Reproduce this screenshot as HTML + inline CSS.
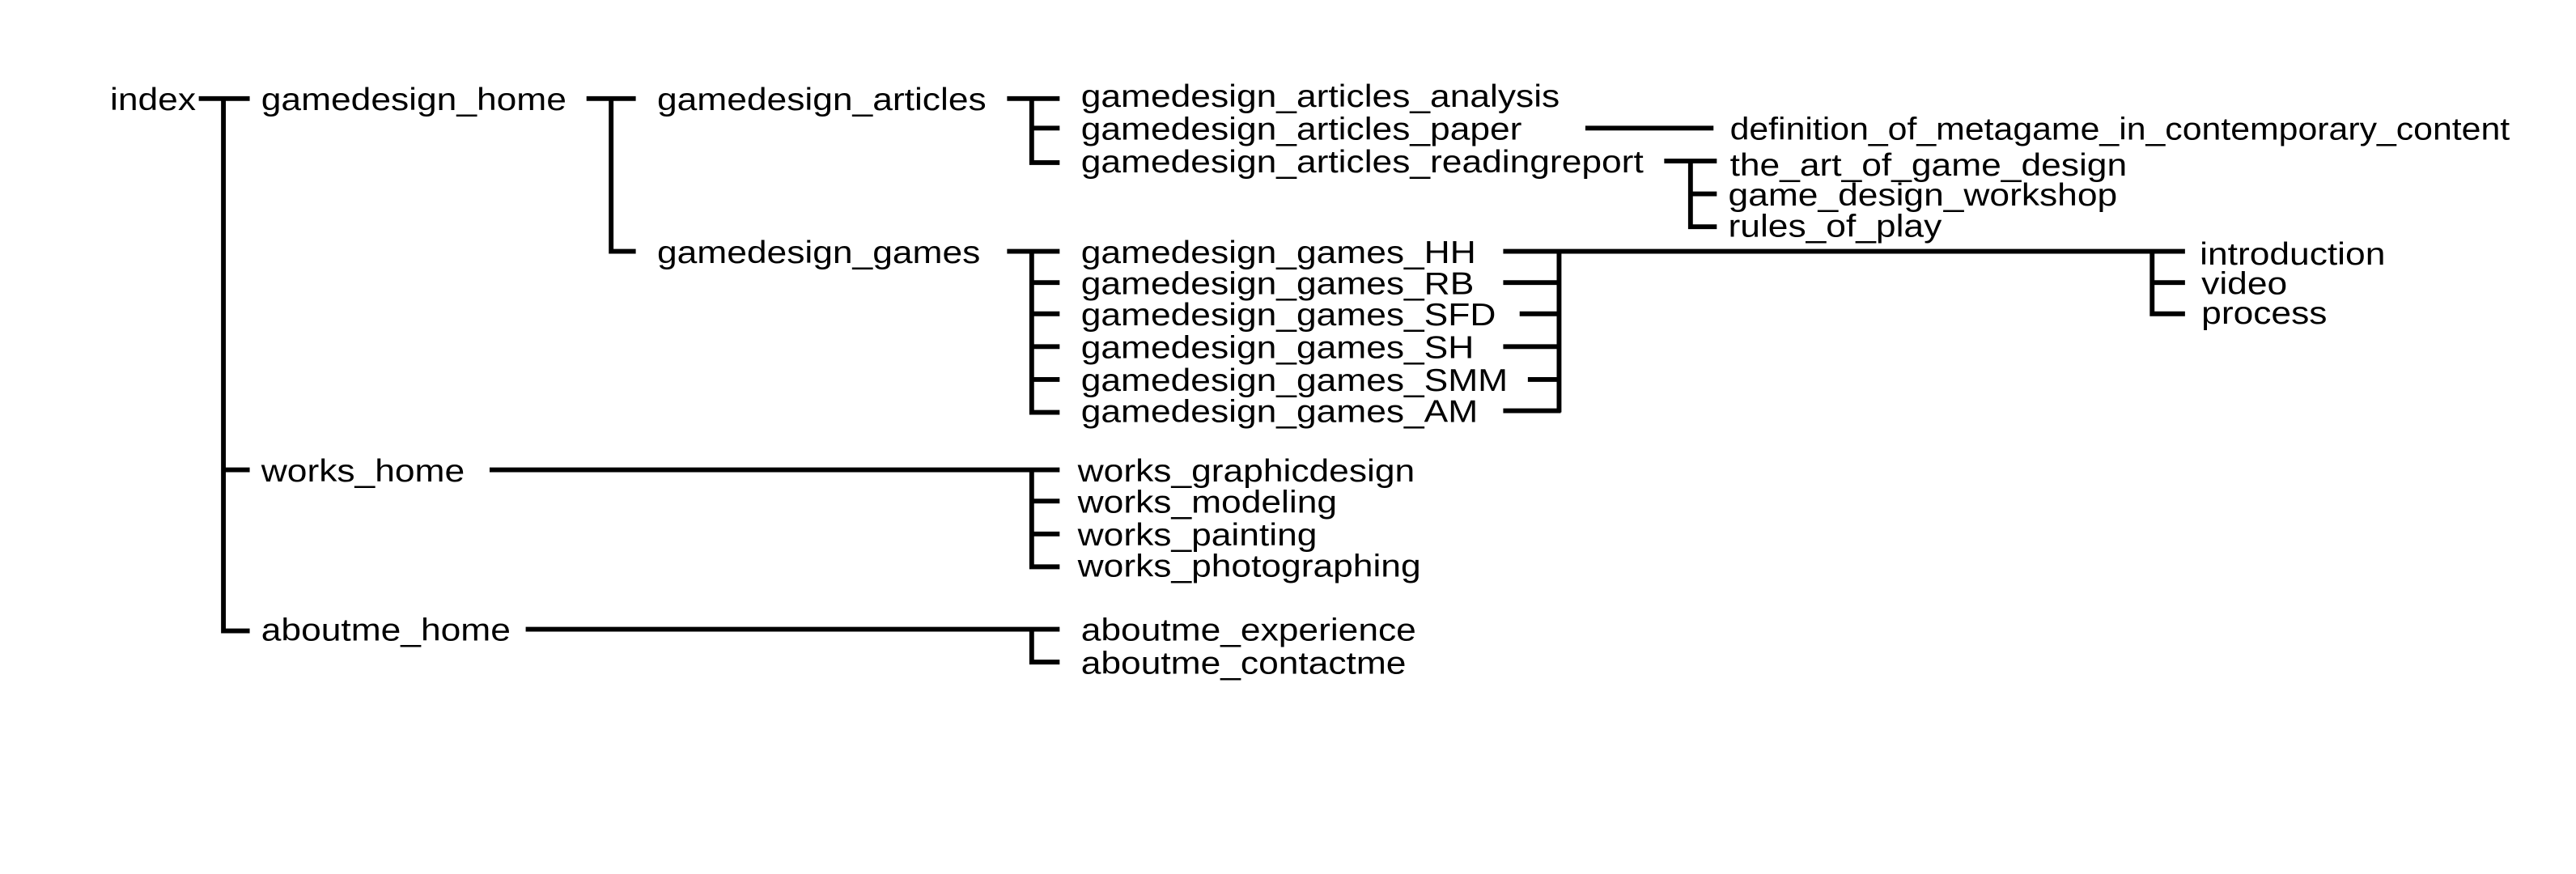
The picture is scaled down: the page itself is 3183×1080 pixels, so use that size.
<!DOCTYPE html>
<html><head><meta charset="utf-8"><style>
html,body{margin:0;padding:0;background:#fff;width:3183px;height:1080px;overflow:hidden}
svg{display:block}
text{font-family:"Liberation Sans",Arial,sans-serif;font-size:19px;fill:#000}
</style></head><body>
<svg width="3183" height="1080" viewBox="0 0 1568 532" preserveAspectRatio="none" xmlns="http://www.w3.org/2000/svg">
<g stroke="#000" stroke-width="2.9" fill="none" stroke-linecap="butt">
<path d="M121 60H152M136 60V384H152M136 286H152"/>
<path d="M357 60H387M372 60V153H387"/>
<path d="M613 60H645M628 60V99H645M628 78H645"/>
<path d="M965 78H1043"/>
<path d="M1013 98H1045M1029 98V138H1045M1029 118H1045"/>
<path d="M613 153H645M628 153V251H645M628 172H645M628 191H645M628 211H645M628 231H645"/>
<path d="M915 153H1330M915 172H949M925 191H949M915 211H949M930 231H949M915 250H950M949 153V251"/>
<path d="M1310 153V191H1330M1310 172H1330"/>
<path d="M298 286H645M628 286V345H645M628 305H645M628 325H645"/>
<path d="M320 383H645M628 383V403H645"/>
</g>
<g>
<text transform="translate(67,67) scale(1.15,1)">index</text>
<text transform="translate(159,67) scale(1.15,1)">gamedesign_home</text>
<text transform="translate(400,67) scale(1.15,1)">gamedesign_articles</text>
<text transform="translate(400,160) scale(1.15,1)">gamedesign_games</text>
<text transform="translate(658,65) scale(1.15,1)">gamedesign_articles_analysis</text>
<text transform="translate(658,85) scale(1.15,1)">gamedesign_articles_paper</text>
<text transform="translate(658,105) scale(1.15,1)">gamedesign_articles_readingreport</text>
<text transform="translate(1053,85) scale(1.11,1)">definition_of_metagame_in_contemporary_content</text>
<text transform="translate(1053,107) scale(1.15,1)">the_art_of_game_design</text>
<text transform="translate(1052,125) scale(1.15,1)">game_design_workshop</text>
<text transform="translate(1052,144) scale(1.15,1)">rules_of_play</text>
<text transform="translate(658,160) scale(1.15,1)">gamedesign_games_HH</text>
<text transform="translate(658,179) scale(1.15,1)">gamedesign_games_RB</text>
<text transform="translate(658,198) scale(1.15,1)">gamedesign_games_SFD</text>
<text transform="translate(658,218) scale(1.15,1)">gamedesign_games_SH</text>
<text transform="translate(658,238) scale(1.15,1)">gamedesign_games_SMM</text>
<text transform="translate(658,257) scale(1.15,1)">gamedesign_games_AM</text>
<text transform="translate(1339,161) scale(1.15,1)">introduction</text>
<text transform="translate(1340,179) scale(1.15,1)">video</text>
<text transform="translate(1340,197) scale(1.15,1)">process</text>
<text transform="translate(159,293) scale(1.15,1)">works_home</text>
<text transform="translate(656,293) scale(1.15,1)">works_graphicdesign</text>
<text transform="translate(656,312) scale(1.15,1)">works_modeling</text>
<text transform="translate(656,332) scale(1.15,1)">works_painting</text>
<text transform="translate(656,351) scale(1.15,1)">works_photographing</text>
<text transform="translate(159,390) scale(1.15,1)">aboutme_home</text>
<text transform="translate(658,390) scale(1.15,1)">aboutme_experience</text>
<text transform="translate(658,410) scale(1.15,1)">aboutme_contactme</text>
</g>
</svg>
</body></html>
